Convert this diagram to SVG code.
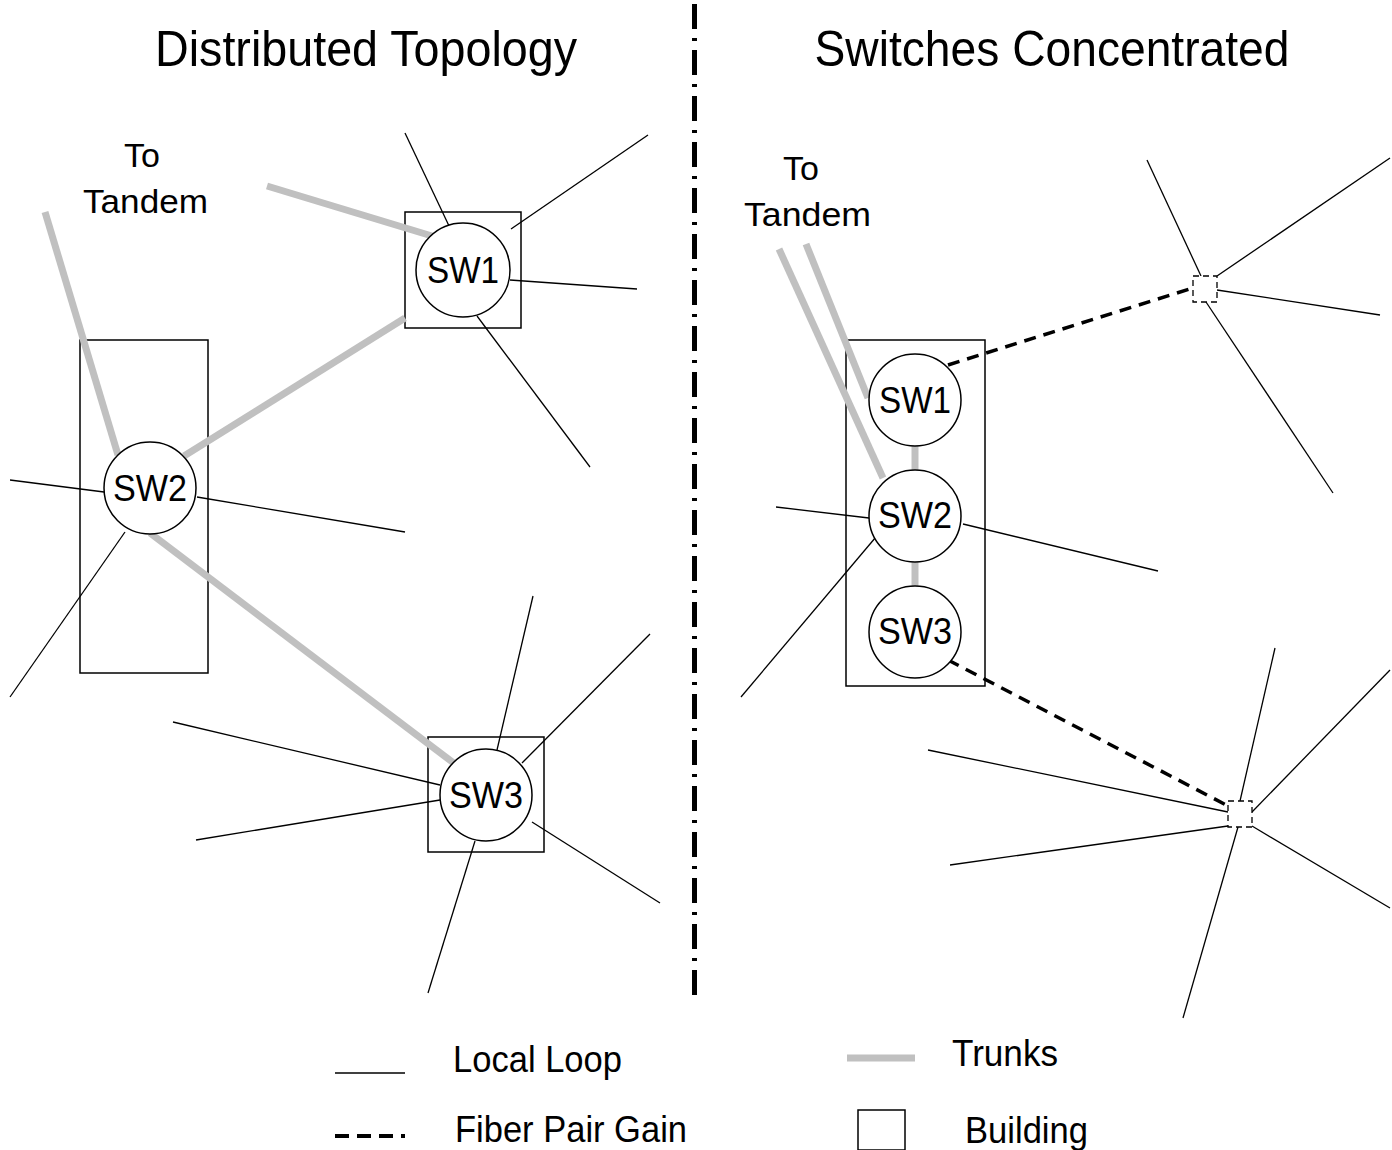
<svg xmlns="http://www.w3.org/2000/svg" width="1392" height="1150" viewBox="0 0 1392 1150">
<style>
text{font-family:"Liberation Sans",Arial,sans-serif;fill:#000}
.title{font-size:50px;text-anchor:middle}
.lbl{font-size:37px;text-anchor:middle}
.tl{font-size:34px;text-anchor:middle}
.leg{font-size:36px}
.loop{stroke:#000;stroke-width:1.3;fill:none}
.trunk{stroke:#c0c0c0;stroke-width:7;fill:none}
.fpg{stroke:#000;stroke-width:3.5;stroke-dasharray:12 8;fill:none}
.bldg{fill:none;stroke:#000;stroke-width:1.5}
.sw{fill:#fff;stroke:#000;stroke-width:1.5}
.pg{fill:#fff;stroke:#000;stroke-width:1.3;stroke-dasharray:6 4}
</style>
<rect width="1392" height="1150" fill="#fff"/>
<text class="title" x="366" y="66" textLength="422" lengthAdjust="spacingAndGlyphs">Distributed Topology</text>
<text class="title" x="1052" y="66" textLength="475" lengthAdjust="spacingAndGlyphs">Switches Concentrated</text>
<line x1="694.5" y1="4" x2="694.5" y2="995" stroke="#000" stroke-width="5" stroke-dasharray="25 9 3 9"/>
<text class="tl" x="142" y="167">To</text>
<text class="tl" x="145.5" y="213" textLength="125" lengthAdjust="spacingAndGlyphs">Tandem</text>
<text class="tl" x="801" y="180">To</text>
<text class="tl" x="807.5" y="226" textLength="127" lengthAdjust="spacingAndGlyphs">Tandem</text>
<g id="buildings">
<rect class="bldg" x="405" y="212" width="116" height="116"/>
<rect class="bldg" x="80" y="340" width="128" height="333"/>
<rect class="bldg" x="428" y="737" width="116" height="115"/>
<rect class="bldg" x="846" y="340" width="139" height="346"/>
</g>
<g id="connectors">
<line class="loop" x1="405" y1="133" x2="450" y2="228"/>
<line class="loop" x1="648" y1="135" x2="511" y2="229"/>
<line class="loop" x1="637" y1="289" x2="510" y2="280"/>
<line class="loop" x1="590" y1="467" x2="477" y2="316"/>
<line class="loop" x1="10" y1="480" x2="104" y2="492"/>
<line class="loop" x1="197" y1="497" x2="405" y2="532"/>
<line class="loop" x1="10" y1="697" x2="125" y2="532"/>
<line class="loop" x1="533" y1="596" x2="497" y2="750"/>
<line class="loop" x1="650" y1="634" x2="522" y2="763"/>
<line class="loop" x1="173" y1="722" x2="440" y2="785"/>
<line class="loop" x1="196" y1="840" x2="440" y2="800"/>
<line class="loop" x1="660" y1="903" x2="532" y2="822"/>
<line class="loop" x1="428" y1="993" x2="475" y2="841"/>
<line class="trunk" x1="267" y1="186" x2="432" y2="236"/>
<line class="trunk" x1="405" y1="318" x2="184" y2="456"/>
<line class="trunk" x1="150" y1="533" x2="455" y2="764"/>
<line class="trunk" x1="45" y1="212" x2="118" y2="455"/>
<line class="loop" x1="776" y1="507" x2="869" y2="518"/>
<line class="loop" x1="963" y1="524" x2="1158" y2="571"/>
<line class="loop" x1="741" y1="697" x2="881" y2="531"/>
<line class="trunk" x1="779" y1="249" x2="883" y2="478"/>
<line class="trunk" x1="806" y1="244" x2="868" y2="398"/>
<line class="trunk" x1="915" y1="446" x2="915" y2="470"/>
<line class="trunk" x1="915" y1="562" x2="915" y2="586"/>
<line class="fpg" x1="948" y1="365" x2="1193" y2="288"/>
<line class="fpg" x1="948" y1="660" x2="1232" y2="808"/>
<line class="loop" x1="1147" y1="160" x2="1201" y2="276"/>
<line class="loop" x1="1390" y1="158" x2="1217" y2="276"/>
<line class="loop" x1="1380" y1="315" x2="1217" y2="290"/>
<line class="loop" x1="1333" y1="493" x2="1206" y2="302"/>
<line class="loop" x1="1275" y1="648" x2="1240" y2="801"/>
<line class="loop" x1="1390" y1="670" x2="1252" y2="812"/>
<line class="loop" x1="1390" y1="908" x2="1252" y2="826"/>
<line class="loop" x1="1183" y1="1018" x2="1238" y2="827"/>
<line class="loop" x1="950" y1="865" x2="1228" y2="826"/>
<line class="loop" x1="928" y1="750" x2="1228" y2="812"/>
</g>
<g id="SW1-left"><circle class="sw" cx="463" cy="270" r="47"/><text class="lbl" x="463" y="283" textLength="72" lengthAdjust="spacingAndGlyphs">SW1</text></g>
<g id="SW2-left"><circle class="sw" cx="150" cy="488" r="46"/><text class="lbl" x="150" y="501" textLength="74" lengthAdjust="spacingAndGlyphs">SW2</text></g>
<g id="SW3-left"><circle class="sw" cx="486" cy="795" r="46"/><text class="lbl" x="486" y="808" textLength="74" lengthAdjust="spacingAndGlyphs">SW3</text></g>
<g id="SW1-right"><circle class="sw" cx="915" cy="400" r="46"/><text class="lbl" x="915" y="413" textLength="72" lengthAdjust="spacingAndGlyphs">SW1</text></g>
<g id="SW2-right"><circle class="sw" cx="915" cy="516" r="46"/><text class="lbl" x="915" y="528" textLength="74" lengthAdjust="spacingAndGlyphs">SW2</text></g>
<g id="SW3-right"><circle class="sw" cx="915" cy="632" r="46"/><text class="lbl" x="915" y="644" textLength="74" lengthAdjust="spacingAndGlyphs">SW3</text></g>
<g id="PG1"><rect class="pg" x="1193" y="276" width="24" height="26"/></g>
<g id="PG2"><rect class="pg" x="1228" y="801" width="24" height="26"/></g>
<g id="legend">
<line class="loop" x1="335" y1="1073" x2="405" y2="1073"/>
<text class="leg" x="453" y="1072" textLength="169" lengthAdjust="spacingAndGlyphs">Local Loop</text>
<line x1="335" y1="1136" x2="405" y2="1136" stroke="#000" stroke-width="4" stroke-dasharray="14 8"/>
<text class="leg" x="455" y="1142" textLength="232" lengthAdjust="spacingAndGlyphs">Fiber Pair Gain</text>
<line class="trunk" x1="847" y1="1058" x2="915" y2="1058" stroke-width="8"/>
<text class="leg" x="952" y="1066" textLength="106" lengthAdjust="spacingAndGlyphs">Trunks</text>
<rect class="bldg" x="858" y="1110" width="47" height="40"/>
<text class="leg" x="965" y="1143" textLength="123" lengthAdjust="spacingAndGlyphs">Building</text>
</g>
</svg>
